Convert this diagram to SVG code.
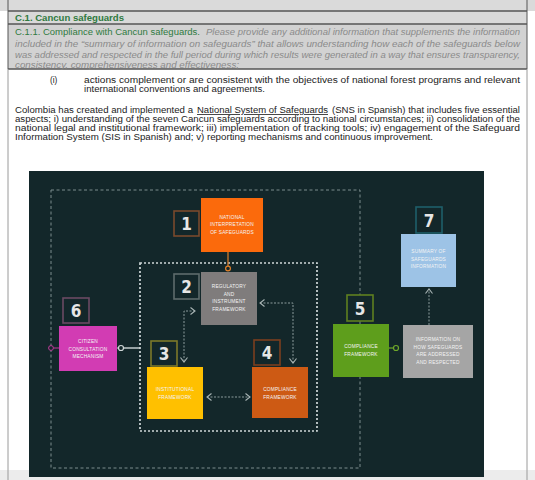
<svg xmlns="http://www.w3.org/2000/svg" width="535" height="480" viewBox="0 0 535 480">
<style>
.doc{font-family:"Liberation Sans",Arial,sans-serif;font-size:8.3px;fill:#222}
.it{font-style:italic;fill:#8a8a8a}
.grn{fill:#2f7a40}
.num{font-family:"DejaVu Sans Condensed","DejaVu Sans",sans-serif;font-weight:bold;font-size:17px;fill:#e6e6e6;text-anchor:middle}
.nt{font-family:"Liberation Sans",Arial,sans-serif;font-size:4.8px;fill:#f4f4f4;text-anchor:middle;letter-spacing:0.2px}
.nbox{fill:#13272a;stroke-width:1.6}
.conn{fill:none;stroke:#8c9c9c;stroke-width:1;stroke-dasharray:2 1.5}
</style>
<defs>
<marker id="chev" viewBox="0 0 6 8" refX="5" refY="4" markerWidth="6" markerHeight="8" orient="auto-start-reverse" markerUnits="userSpaceOnUse">
<path d="M0.5,0.5 L5,4 L0.5,7.5" fill="none" stroke="#a8b4b4" stroke-width="1.1"/>
</marker>
</defs>
<!-- document background -->
<rect x="0" y="0" width="535" height="480" fill="#ffffff"/>
<rect x="0" y="0" width="535" height="11" fill="#dadada"/>
<rect x="8" y="11" width="519" height="13" fill="#d9d9d9"/>
<rect x="8" y="24" width="519" height="45" fill="#d2d2d2"/>
<rect x="0" y="470" width="535" height="10" fill="#ececec"/>
<g stroke="#555" fill="none">
<line x1="8" y1="0" x2="8" y2="69" stroke-width="1"/>
<line x1="527" y1="0" x2="527" y2="69" stroke-width="1"/>
<line x1="8" y1="11" x2="527" y2="11" stroke-width="1.6"/>
<line x1="8" y1="24" x2="527" y2="24" stroke-width="1.6"/>
<line x1="8" y1="69" x2="527" y2="69" stroke-width="1.6"/>
</g>
<g stroke="#9a9a9a" stroke-width="1">
<line x1="8" y1="69" x2="8" y2="480"/>
<line x1="527" y1="69" x2="527" y2="480"/>
</g>
<!-- document text -->
<text class="doc grn" x="15" y="20.5" font-weight="bold" textLength="109" lengthAdjust="spacingAndGlyphs">C.1. Cancun safeguards</text>
<text class="doc grn" x="15" y="35" textLength="185" lengthAdjust="spacingAndGlyphs">C.1.1. Compliance with Cancun safeguards.</text>
<text class="doc it" x="206" y="35" textLength="314" lengthAdjust="spacingAndGlyphs">Please provide any additional information that supplements the information</text>
<text class="doc it" x="15" y="46.5" textLength="505" lengthAdjust="spacingAndGlyphs">included in the “summary of information on safeguards” that allows understanding how each of the safeguards below</text>
<text class="doc it" x="15" y="57.5" textLength="505" lengthAdjust="spacingAndGlyphs">was addressed and respected in the full period during which results were generated in a way that ensures transparency,</text>
<text class="doc it" x="15" y="68" textLength="224" lengthAdjust="spacingAndGlyphs" fill="#a0a0a0">consistency, comprehensiveness and effectiveness;</text>
<text class="doc" x="50" y="83">(i)</text>
<text class="doc" x="84" y="83" textLength="436" lengthAdjust="spacingAndGlyphs">actions complement or are consistent with the objectives of national forest programs and relevant</text>
<text class="doc" x="84" y="92" textLength="181" lengthAdjust="spacingAndGlyphs">international conventions and agreements.</text>
<text class="doc" x="15" y="113" textLength="178" lengthAdjust="spacingAndGlyphs">Colombia has created and implemented a</text>
<text class="doc" x="197" y="113" textLength="131" lengthAdjust="spacingAndGlyphs" fill="#2255cc" text-decoration="underline">National System of Safeguards</text>
<text class="doc" x="332" y="113" textLength="188" lengthAdjust="spacingAndGlyphs">(SNS in Spanish) that includes five essential</text>
<text class="doc" x="15" y="122" textLength="505" lengthAdjust="spacingAndGlyphs">aspects; i) understanding of the seven Cancun safeguards according to national circumstances; ii) consolidation of the</text>
<text class="doc" x="15" y="131" textLength="505" lengthAdjust="spacingAndGlyphs">national legal and institutional framework; iii) implementation of tracking tools; iv) engagement of the Safeguard</text>
<text class="doc" x="15" y="139.5" textLength="418" lengthAdjust="spacingAndGlyphs">Information System (SIS in Spanish) and; v) reporting mechanisms and continuous improvement.</text>
<!-- panel -->
<rect x="29" y="171" width="455" height="306" fill="#13272a"/>
<rect x="51" y="190" width="309" height="278" fill="none" stroke="#7d8d8d" stroke-width="1" stroke-dasharray="3 2.5"/>
<rect x="140" y="263" width="177" height="168" fill="none" stroke="#cfd8d8" stroke-width="1.7" stroke-dasharray="2 2"/>
<!-- connectors -->
<g id="connectors">
<line x1="228" y1="252" x2="228" y2="266" stroke="#e0802a" stroke-width="1.2"/>
<circle cx="228" cy="268.5" r="2.4" fill="#13272a" stroke="#e0802a" stroke-width="1.2"/>
<line x1="53.5" y1="348" x2="59" y2="348" stroke="#c03a9a" stroke-width="1"/>
<circle cx="51" cy="348" r="2.4" fill="#13272a" stroke="#c03a9a" stroke-width="1"/>
<line x1="117" y1="348" x2="118.5" y2="348" stroke="#d0d8d8" stroke-width="1.2"/>
<circle cx="121" cy="348" r="2.5" fill="#13272a" stroke="#d0d8d8" stroke-width="1.2"/>
<line x1="123.5" y1="348" x2="140" y2="348" stroke="#d0d8d8" stroke-width="1.4"/>
<path class="conn" d="M195,311 L184,311 L184,362" marker-start="url(#chev)" marker-end="url(#chev)"/>
<path class="conn" d="M260,303 L293,303 L293,363" marker-start="url(#chev)" marker-end="url(#chev)"/>
<path class="conn" d="M207,397 L250,397" marker-start="url(#chev)" marker-end="url(#chev)"/>
<line x1="389" y1="348" x2="393.5" y2="348" stroke="#6fa82a" stroke-width="1.2"/>
<circle cx="396" cy="348" r="2.5" fill="#13272a" stroke="#6fa82a" stroke-width="1.2"/>
<path class="conn" d="M429,325 L429,289" marker-end="url(#chev)"/>
</g>
<!-- nodes -->
<g id="node1">
<rect x="201" y="198" width="62" height="54" fill="#fb6a0c"/>
<rect class="nbox" x="174" y="211" width="25" height="25" stroke="#7b4a2c"/>
<text class="num" x="186.5" y="230">1</text>
<text class="nt" x="232" y="218.5">NATIONAL</text>
<text class="nt" x="232" y="226">INTERPRETATION</text>
<text class="nt" x="232" y="233.5">OF SAFEGUARDS</text>
</g>
<g id="node2">
<rect x="201" y="272" width="56" height="53" fill="#7f7c7c"/>
<rect class="nbox" x="174" y="274" width="25" height="25" stroke="#5e6c6c"/>
<text class="num" x="186.5" y="293">2</text>
<text class="nt" x="229" y="288">REGULATORY</text>
<text class="nt" x="229" y="295.5">AND</text>
<text class="nt" x="229" y="303">INSTRUMENT</text>
<text class="nt" x="229" y="310.5">FRAMEWORK</text>
</g>
<g id="node6">
<rect x="59" y="326" width="58" height="45" fill="#d23cb3"/>
<rect class="nbox" x="63" y="298" width="26" height="25" stroke="#6b4a63"/>
<text class="num" x="76" y="317">6</text>
<text class="nt" x="88" y="343">CITIZEN</text>
<text class="nt" x="88" y="350.5">CONSULTATION</text>
<text class="nt" x="88" y="358">MECHANISM</text>
</g>
<g id="node3">
<rect x="147" y="367" width="56" height="52" fill="#ffc000"/>
<rect class="nbox" x="151" y="341" width="26" height="25" stroke="#7d7a2a"/>
<text class="num" x="164" y="360">3</text>
<text class="nt" x="175" y="391">INSTITUTIONAL</text>
<text class="nt" x="175" y="398.5">FRAMEWORK</text>
</g>
<g id="node4">
<rect x="252" y="367" width="56" height="51" fill="#cd5a14"/>
<rect class="nbox" x="254" y="340" width="26" height="25" stroke="#7c3f1e"/>
<text class="num" x="267" y="359">4</text>
<text class="nt" x="280" y="391">COMPLIANCE</text>
<text class="nt" x="280" y="398.5">FRAMEWORK</text>
</g>
<g id="node5">
<rect x="333" y="324" width="56" height="53" fill="#5e9e1c"/>
<rect class="nbox" x="347" y="295" width="26" height="26" stroke="#5f8020"/>
<text class="num" x="360" y="314.5">5</text>
<text class="nt" x="361" y="348">COMPLIANCE</text>
<text class="nt" x="361" y="355.5">FRAMEWORK</text>
</g>
<g id="node-info">
<rect x="403" y="325" width="70" height="53" fill="#a5a5a5"/>
<text class="nt" x="438" y="341">INFORMATION ON</text>
<text class="nt" x="438" y="348.5">HOW SAFEGUARDS</text>
<text class="nt" x="438" y="356">ARE ADDRESSED</text>
<text class="nt" x="438" y="363.5">AND RESPECTED</text>
</g>
<g id="node7">
<rect x="401" y="234" width="55" height="53" fill="#9dc3e6"/>
<rect class="nbox" x="416" y="207" width="26" height="26" stroke="#1f5f6a"/>
<text class="num" x="429" y="226.5">7</text>
<text class="nt" x="428.5" y="253">SUMMARY OF</text>
<text class="nt" x="428.5" y="260.5">SAFEGUARDS</text>
<text class="nt" x="428.5" y="268">INFORMATION</text>
</g>
</svg>
